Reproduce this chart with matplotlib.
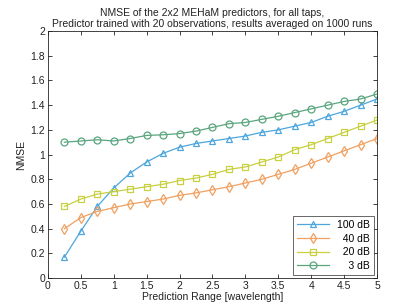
import matplotlib.pyplot as plt
import numpy as np

plt.rcParams['font.family'] = ['Liberation Sans', 'DejaVu Sans']

# Prediction range values (wavelength)
pred_range = np.arange(1, 21) * 0.25

nmse_100db = [0.17, 0.38, 0.58, 0.73, 0.85, 0.94, 1.01, 1.06, 1.09, 1.11,
              1.13, 1.15, 1.18, 1.20, 1.23, 1.26, 1.31, 1.35, 1.40, 1.45]
nmse_40db = [0.40, 0.49, 0.54, 0.57, 0.60, 0.62, 0.64, 0.67, 0.69, 0.715,
             0.74, 0.77, 0.80, 0.84, 0.88, 0.93, 0.98, 1.03, 1.08, 1.13]
nmse_20db = [0.58, 0.64, 0.68, 0.70, 0.72, 0.74, 0.76, 0.79, 0.81, 0.84,
             0.88, 0.90, 0.94, 0.98, 1.04, 1.08, 1.13, 1.18, 1.23, 1.28]
nmse_3db = [1.10, 1.11, 1.12, 1.11, 1.13, 1.155, 1.16, 1.17, 1.19, 1.22,
            1.25, 1.26, 1.285, 1.31, 1.34, 1.37, 1.40, 1.43, 1.45, 1.49]

# leading spaces right-align the labels like the original legend
labels = ['100 dB', '  40 dB', '  20 dB', '    3 dB']

fig = plt.figure(figsize=(4.13, 3.07), dpi=100)
ax = fig.add_axes([0.116, 0.094, 0.797, 0.805])

series = [
    (nmse_100db, '^', '#4da6de'),
    (nmse_40db, 'd', '#f0a060'),
    (nmse_20db, 's', '#c8d040'),
    (nmse_3db, 'o', '#5aa57e'),
]
for (vals, mk, col), lab in zip(series, labels):
    ax.plot(pred_range, vals, marker=mk, color=col, markerfacecolor='none',
            markeredgecolor=col, markersize=5, linewidth=0.9,
            markeredgewidth=0.9, label=lab)

ax.set_xlim(0, 5)
ax.set_ylim(0, 2)
ax.set_xticks(np.arange(0, 5.01, 0.5))
ax.set_xticklabels(['0', '0.5', '1', '1.5', '2', '2.5', '3', '3.5', '4', '4.5', '5'])
ax.set_yticks(np.arange(0, 2.01, 0.2))
ax.set_yticklabels(['0', '0.2', '0.4', '0.6', '0.8', '1', '1.2', '1.4', '1.6', '1.8', '2'])
ax.tick_params(direction='in', top=True, right=True, labelsize=7.5,
               length=3, width=0.6, pad=2, colors='#222222')
for sp in ax.spines.values():
    sp.set_linewidth(0.6)
    sp.set_color('#222222')

ax.set_xlabel('Prediction Range [wavelength]', fontsize=7.5, labelpad=1, color='#222222')
ax.set_ylabel('NMSE', fontsize=7.5, labelpad=3, color='#222222')
ax.set_title('NMSE of the 2x2 MEHaM predictors, for all taps,\n'
             'Predictor trained with 20 observations, results averaged on 1000 runs',
             fontsize=7.5, pad=3, color='#222222', linespacing=1.1)

leg = ax.legend(loc='lower right', fontsize=7.5, handlelength=3.0,
                fancybox=False, edgecolor='#222222', borderpad=0.4,
                labelspacing=0.35, borderaxespad=0.3, handletextpad=0.8)
leg.get_frame().set_linewidth(0.6)

plt.savefig('out.png', dpi=100)
